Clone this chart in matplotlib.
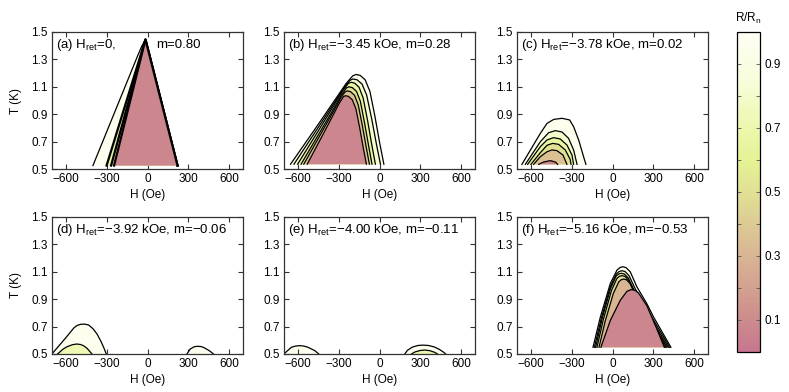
import matplotlib
matplotlib.use("Agg")
import matplotlib.pyplot as plt
from matplotlib.colors import LinearSegmentedColormap, Normalize
from matplotlib.colorbar import ColorbarBase

plt.rcParams["font.family"] = ["Liberation Sans", "DejaVu Sans"]
plt.rcParams["mathtext.fontset"] = "custom"
plt.rcParams["mathtext.rm"] = "Liberation Sans"

# panel annotations
panel_tags = ["(a)", "(b)", "(c)", "(d)", "(e)", "(f)"]
h_ret = ["0,", "\u22123.45 kOe,", "\u22123.78 kOe,", "\u22123.92 kOe,", "\u22124.00 kOe,", "\u22125.16 kOe,"]
m_vals = ["0.80", "0.28", "0.02", "\u22120.06", "\u22120.11", "\u22120.53"]

x_ticks = [-600, -300, 0, 300, 600]
y_ticks = [0.5, 0.7, 0.9, 1.1, 1.3, 1.5]
cb_ticks = [0.1, 0.2, 0.3, 0.4, 0.5, 0.6, 0.7, 0.8, 0.9]

# contour lines: H (Oe), T (K), R/Rn of band inside
a_H = [[-400, -164, -79, -43, -15, 220],
       [-300, -15, 220],
       [-267, -15, 220],
       [-245, -15, 220]]
a_T = [[0.525, 1.102, 1.31, 1.395, 1.445, 0.525],
       [0.525, 1.445, 0.525],
       [0.525, 1.445, 0.525],
       [0.525, 1.445, 0.525]]
a_fill = [0.95, 0.65, 0.4, 0.08]

b_H = [[-652, -460, -316, -244, -196, -172, -141, -105, -70, -33, 1, 32],
       [-627, -454, -324, -259, -216, -194, -164, -128, -94, -57, -23, 7],
       [-600, -444, -326, -268, -229, -209, -182, -150, -120, -87, -57, -30],
       [-575, -435, -329, -277, -242, -224, -199, -168, -140, -109, -80, -55],
       [-555, -428, -332, -285, -253, -237, -213, -183, -156, -126, -98, -74],
       [-530, -418, -334, -292, -264, -250, -227, -199, -173, -145, -119, -96]]
b_T = [[0.535, 0.810, 1.020, 1.125, 1.180, 1.190, 1.183, 1.151, 1.066, 0.882, 0.692, 0.535],
       [0.535, 0.796, 0.995, 1.095, 1.148, 1.157, 1.151, 1.120, 1.039, 0.865, 0.684, 0.535],
       [0.535, 0.786, 0.978, 1.073, 1.124, 1.133, 1.127, 1.097, 1.019, 0.852, 0.679, 0.535],
       [0.535, 0.772, 0.953, 1.044, 1.092, 1.100, 1.094, 1.066, 0.993, 0.834, 0.671, 0.535],
       [0.535, 0.760, 0.931, 1.017, 1.062, 1.070, 1.065, 1.038, 0.968, 0.819, 0.663, 0.535],
       [0.535, 0.745, 0.905, 0.985, 1.028, 1.035, 1.030, 1.005, 0.940, 0.800, 0.655, 0.535]]
b_fill = [0.95, 0.8, 0.65, 0.5, 0.35, 0.08]

c_H = [[-664, -529, -480, -431, -370, -314, -285, -248, -212, -195],
       [-639, -529, -468, -419, -370, -322, -285, -260],
       [-622, -529, -480, -432, -383, -334, -297, -285],
       [-598, -529, -480, -439, -395, -346, -310, -304],
       [-578, -529, -480, -444, -407, -363, -334],
       [-541, -505, -456, -419, -402]]
c_T = [[0.534, 0.760, 0.833, 0.862, 0.870, 0.858, 0.809, 0.712, 0.590, 0.534],
       [0.534, 0.699, 0.765, 0.780, 0.770, 0.724, 0.639, 0.534],
       [0.534, 0.663, 0.712, 0.729, 0.719, 0.675, 0.602, 0.534],
       [0.534, 0.619, 0.673, 0.687, 0.680, 0.639, 0.570, 0.534],
       [0.534, 0.590, 0.626, 0.639, 0.634, 0.602, 0.534],
       [0.534, 0.551, 0.561, 0.551, 0.534]]
c_fill = [0.95, 0.8, 0.65, 0.5, 0.35, 0.08]

d_H = [[-712, -600, -540, -517, -490, -460, -432, -400, -370, -340, -320, -302],
       [-659, -620, -590, -550, -517, -490, -468, -445, -432, -407],
       [289, 313, 340, 362, 390, 411, 440, 460, 484]]
d_T = [[0.487, 0.617, 0.69, 0.708, 0.717, 0.718, 0.712, 0.685, 0.646, 0.59, 0.545, 0.50],
       [0.50, 0.535, 0.553, 0.568, 0.573, 0.569, 0.56, 0.543, 0.529, 0.50],
       [0.50, 0.536, 0.552, 0.556, 0.555, 0.548, 0.532, 0.519, 0.50]]
d_fill = [0.95, 0.72, 0.95]

e_H = [[-712, -688, -646, -615, -585, -555, -524, -475, -445],
       [185, 205, 240, 280, 320, 360, 400, 440, 470, 485],
       [234, 260, 300, 333, 370, 405, 425]]
e_T = [[0.49, 0.512, 0.549, 0.558, 0.561, 0.558, 0.549, 0.525, 0.50],
       [0.50, 0.527, 0.55, 0.562, 0.565, 0.562, 0.552, 0.533, 0.513, 0.50],
       [0.50, 0.515, 0.526, 0.529, 0.524, 0.512, 0.50]]
e_fill = [0.95, 0.95, 0.7]

f_H = [[-143, -89, -16, 33, 55, 77, 100, 130, 179, 253, 301, 428],
       [-133, -82, -16, 29, 49, 69, 92, 121, 170, 244, 293, 419],
       [-124, -77, -15, 26, 45, 64, 87, 116, 164, 236, 285, 409],
       [-114, -68, -8, 32, 51, 69, 91, 118, 165, 234, 280, 399],
       [-99, -54, 6, 46, 64, 82, 102, 128, 171, 235, 278, 389],
       [-85, -16, 57, 106, 137, 165, 191, 253, 326, 380]]
f_T = [[0.549, 0.77, 1.015, 1.113, 1.131, 1.137, 1.13, 1.10, 0.99, 0.865, 0.77, 0.549],
       [0.549, 0.761, 0.991, 1.086, 1.102, 1.108, 1.102, 1.072, 0.969, 0.845, 0.761, 0.549],
       [0.549, 0.754, 0.976, 1.067, 1.084, 1.089, 1.084, 1.054, 0.955, 0.835, 0.754, 0.549],
       [0.549, 0.748, 0.962, 1.051, 1.067, 1.072, 1.067, 1.038, 0.942, 0.826, 0.748, 0.549],
       [0.549, 0.738, 0.942, 1.027, 1.042, 1.047, 1.042, 1.015, 0.924, 0.813, 0.738, 0.549],
       [0.549, 0.745, 0.892, 0.958, 0.970, 0.965, 0.945, 0.85, 0.68, 0.549]]
f_fill = [0.95, 0.8, 0.65, 0.5, 0.3, 0.08]

panels_H = [a_H, b_H, c_H, d_H, e_H, f_H]
panels_T = [a_T, b_T, c_T, d_T, e_T, f_T]
panels_fill = [a_fill, b_fill, c_fill, d_fill, e_fill, f_fill]

cmap = LinearSegmentedColormap.from_list(
    "rrn",
    [
        (0.0, (0.78, 0.46, 0.56)),
        (0.1, (0.80, 0.55, 0.55)),
        (0.3, (0.85, 0.71, 0.58)),
        (0.5, (0.88, 0.88, 0.58)),
        (0.6, (0.90, 0.95, 0.58)),
        (0.7, (0.93, 0.97, 0.68)),
        (0.85, (0.97, 0.99, 0.86)),
        (1.0, (1.0, 1.0, 0.96)),
    ],
)

FIG_W, FIG_H = 789, 392
col_left = [52, 284, 517]
row_top = [32, 217]
ax_w, ax_h = 191, 137
FS = 8.5

fig = plt.figure(figsize=(FIG_W / 100, FIG_H / 100), dpi=100)

for i in range(6):
    r, c = divmod(i, 3)
    ax = fig.add_axes([
        col_left[c] / FIG_W,
        1 - (row_top[r] + ax_h) / FIG_H,
        ax_w / FIG_W,
        ax_h / FIG_H,
    ])
    lw = 1.6 if i == 0 else 0.9
    for k, (h, t, lev) in enumerate(zip(panels_H[i], panels_T[i], panels_fill[i])):
        ax.fill(h, t, color=cmap(lev), lw=0, zorder=1 + k)
        ax.plot(h, t, color="black", lw=(0.9 if k == 0 else lw), zorder=1 + k,
                solid_joinstyle="round")

    ax.set_xlim(-700, 700)
    ax.set_ylim(0.5, 1.5)
    ax.set_xticks(x_ticks)
    ax.set_yticks(y_ticks)
    ax.set_yticklabels([f"{v:.1f}" for v in y_ticks])
    ax.tick_params(direction="in", top=True, right=True, length=3.5,
                   width=0.8, labelsize=FS, pad=3, colors="#333333",
                   labelcolor="black")
    for sp in ax.spines.values():
        sp.set_linewidth(0.9)
        sp.set_color("#333333")
        sp.set_zorder(20)
    ax.set_xlabel("H (Oe)", fontsize=FS, labelpad=3)
    if c == 0:
        ax.set_ylabel("T (K)", fontsize=FS, labelpad=7)

    head = f"{panel_tags[i]} H$_\\mathregular{{ret}}$={h_ret[i]}"
    if i == 0:
        ax.text(0.022, 0.905, head, transform=ax.transAxes, fontsize=9.5,
                va="center", ha="left", zorder=30)
        ax.text(0.543, 0.905, f"m={m_vals[i]}", transform=ax.transAxes,
                fontsize=9.5, va="center", ha="left", zorder=30)
    else:
        ax.text(0.022, 0.905, f"{head} m={m_vals[i]}", transform=ax.transAxes,
                fontsize=9.5, va="center", ha="left", zorder=30)

cax = fig.add_axes([737 / FIG_W, 1 - 352 / FIG_H, 23 / FIG_W, 320 / FIG_H])
cb = ColorbarBase(cax, cmap=cmap, norm=Normalize(0, 1), orientation="vertical")
cb.set_ticks(cb_ticks)
cb.set_ticklabels([f"{v:.1f}" if round(v * 10) % 2 else "" for v in cb_ticks])
cax.tick_params(direction="in", left=True, right=True, length=3, width=0.6,
                labelsize=FS, pad=3, colors="#555555", labelcolor="black")
cb.outline.set_linewidth(0.9)
cb.outline.set_edgecolor("black")
fig.text(748 / FIG_W, 1 - 18 / FIG_H, "R/R$_\\mathregular{n}$", fontsize=FS,
         ha="center", va="center")

fig.savefig("out.png", dpi=100, facecolor="white")
